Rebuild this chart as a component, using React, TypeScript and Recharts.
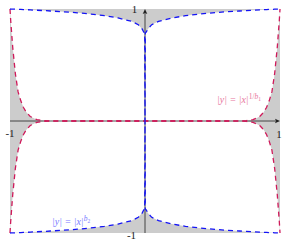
import React from 'react';
import {
  ComposedChart,
  Area,
  Line,
  XAxis,
  YAxis,
  CartesianGrid,
  ReferenceLine,
  ReferenceDot,
} from 'recharts';

const xs = [0, 0.002, 0.01, 0.02, 0.05, 0.1, 0.2, 0.3, 0.4, 0.5, 0.6, 0.7, 0.75, 0.8, 0.85, 0.88, 0.9, 0.92, 0.94, 0.95, 0.96, 0.97, 0.98, 0.985, 0.99, 0.995, 1];
// |y| = |x|^{b2}
const blueYs = [0, 0.785, 0.795, 0.82, 0.86, 0.89, 0.92, 0.94, 0.955, 0.966, 0.975, 0.982, 0.986, 0.989, 0.992, 0.994, 0.995, 0.996, 0.997, 0.9974, 0.998, 0.9985, 0.999, 0.9992, 0.9995, 0.9997, 1];
// |y| = |x|^{1/b1}
const redYs = [0, 0, 0, 0, 0, 0, 0, 0, 0, 0, 0, 0.001, 0.003, 0.012, 0.04, 0.08, 0.12, 0.18, 0.26, 0.34, 0.42, 0.54, 0.66, 0.74, 0.82, 0.9, 1];

const RED = '#cf1a5a';
const BLUE = '#1414f5';
const RED_LABEL = '#e8769c';
const BLUE_LABEL = '#7a7aff';
const GRAY = '#cccccc';
const INK = '#222222';
const FONT = '"Liberation Serif", "DejaVu Serif", serif';

const half = xs.map((x, i) => ({ x, red: redYs[i], blue: blueYs[i] }));
const data = [
  ...half.slice(1).reverse().map((p) => ({ ...p, x: -p.x })),
  ...half,
].map((p) => ({
  x: p.x,
  upper: [p.red, p.blue],
  lower: [-p.blue, -p.red],
  redTop: p.red,
  redBottom: -p.red,
  blueTop: p.blue,
  blueBottom: -p.blue,
}));

const AxisArrow = (props: any) => {
  const { x1, y1, x2, y2 } = props;
  if (Math.abs(x1 - x2) < 0.5) {
    const top = Math.min(y1, y2);
    const bottom = Math.max(y1, y2);
    return (
      <g>
        <line x1={x1} y1={bottom} x2={x1} y2={top + 2} stroke={INK} strokeWidth={0.8} />
        <path d={`M${x1},${top} L${x1 - 2.3},${top + 5} L${x1},${top + 4} L${x1 + 2.3},${top + 5} Z`} fill={INK} />
      </g>
    );
  }
  const left = Math.min(x1, x2);
  const right = Math.max(x1, x2);
  return (
    <g>
      <line x1={left} y1={y1} x2={right - 2} y2={y1} stroke={INK} strokeWidth={0.8} />
      <path d={`M${right},${y1} L${right - 5},${y1 - 2.3} L${right - 4},${y1} L${right - 5},${y1 + 2.3} Z`} fill={INK} />
    </g>
  );
};

const centerOf = (props: any) => {
  const vb = props.viewBox || {};
  return {
    cx: (vb.x || 0) + (vb.width || 0) / 2,
    cy: (vb.y || 0) + (vb.height || 0) / 2,
  };
};

const tickLabel = (text: string, dx: number, dy: number) => (props: any) => {
  const { cx, cy } = centerOf(props);
  return (
    <text x={cx + dx} y={cy + dy} textAnchor="middle" fontSize={11} fontFamily={FONT} fill={INK} stroke="none">
      {text}
    </text>
  );
};

const redLabel = (props: any) => {
  const { cx, cy } = centerOf(props);
  return (
    <text x={cx - 63} y={cy - 18} fontSize={10} fontFamily={FONT} fill={RED_LABEL} stroke="none">
      <tspan fontStyle="italic">|y| = |x|</tspan>
      <tspan dy={-4} fontSize={7.5}>1/</tspan>
      <tspan fontSize={7.5} fontStyle="italic">b</tspan>
      <tspan dy={1.5} fontSize={5.5}>1</tspan>
    </text>
  );
};

const blueLabel = (props: any) => {
  const { cx, cy } = centerOf(props);
  return (
    <text x={cx + 42} y={cy - 8} fontSize={10} fontFamily={FONT} fill={BLUE_LABEL} stroke="none">
      <tspan fontStyle="italic">|y| = |x|</tspan>
      <tspan dy={-4} fontSize={7.5} fontStyle="italic">b</tspan>
      <tspan dy={1.5} fontSize={5.5}>2</tspan>
    </text>
  );
};

const App: React.FC = () => {
  return (
    <div style={{ position: 'absolute', left: 0, top: 0 }}>
      <ComposedChart width={289} height={243} data={data} margin={{ top: 9, right: 9, bottom: 10, left: 10 }}>
        <CartesianGrid horizontal={false} vertical={false} fill={GRAY} stroke="none" />
        <XAxis type="number" dataKey="x" domain={[-1, 1]} hide />
        <YAxis type="number" domain={[-1, 1]} hide />
        <Area type="linear" dataKey="upper" stroke="none" fill="#ffffff" fillOpacity={1} isAnimationActive={false} />
        <Area type="linear" dataKey="lower" stroke="none" fill="#ffffff" fillOpacity={1} isAnimationActive={false} />
        <ReferenceLine y={0} shape={AxisArrow} ifOverflow="visible" />
        <ReferenceLine x={0} shape={AxisArrow} ifOverflow="visible" />
        <Line type="linear" dataKey="redTop" stroke={RED} strokeWidth={1.3} strokeDasharray="5 4" dot={false} isAnimationActive={false} />
        <Line type="linear" dataKey="redBottom" stroke={RED} strokeWidth={1.3} strokeDasharray="5 4" dot={false} isAnimationActive={false} />
        <Line type="linear" dataKey="blueTop" stroke={BLUE} strokeWidth={1.3} strokeDasharray="5 4" dot={false} isAnimationActive={false} />
        <Line type="linear" dataKey="blueBottom" stroke={BLUE} strokeWidth={1.3} strokeDasharray="5 4" dot={false} isAnimationActive={false} />
        <ReferenceDot x={0} y={1} r={0} fill="none" stroke="none" label={tickLabel('1', -10.5, 4)} />
        <ReferenceDot x={0} y={-1} r={0} fill="none" stroke="none" label={tickLabel('-1', -13.5, 6)} />
        <ReferenceDot x={-1} y={0} r={0} fill="none" stroke="none" label={tickLabel('-1', 0, 16)} />
        <ReferenceDot x={1} y={0} r={0} fill="none" stroke="none" label={tickLabel('1', -1, 17)} />
        <ReferenceDot x={1} y={0} r={0} fill="none" stroke="none" label={redLabel} />
        <ReferenceDot x={-1} y={-1} r={0} fill="none" stroke="none" label={blueLabel} />
      </ComposedChart>
    </div>
  );
};

export default App;
